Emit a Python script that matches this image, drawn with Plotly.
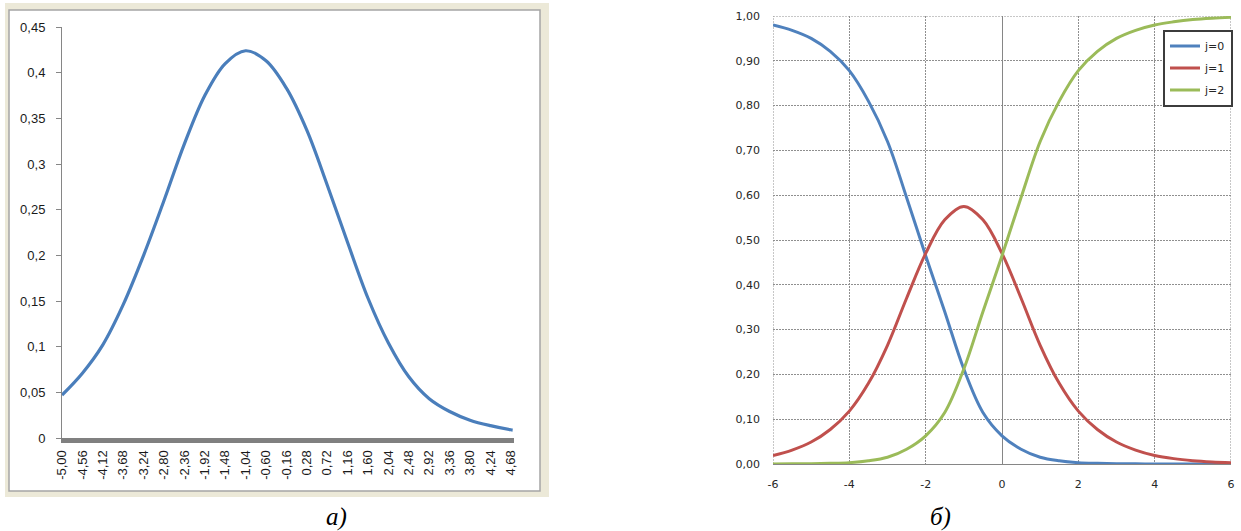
import plotly.graph_objects as go

W, H = 1241, 531

# ---- panel a: single bell-shaped curve over a category-style axis ----
a_x = [-5.00, -4.56, -4.12, -3.68, -3.24, -2.80, -2.36, -1.92, -1.48, -1.04,
       -0.60, -0.16, 0.28, 0.72, 1.16, 1.60, 2.04, 2.48, 2.92, 3.36,
       3.80, 4.24, 4.68, 4.72]
a_y = [0.047, 0.071, 0.102, 0.146, 0.200, 0.260, 0.322, 0.375, 0.410, 0.424,
       0.413, 0.383, 0.337, 0.277, 0.214, 0.153, 0.104, 0.067, 0.043, 0.029,
       0.0195, 0.0135, 0.009, 0.0087]
a_tick_vals = [-5.00, -4.56, -4.12, -3.68, -3.24, -2.80, -2.36, -1.92, -1.48, -1.04,
               -0.60, -0.16, 0.28, 0.72, 1.16, 1.60, 2.04, 2.48, 2.92, 3.36,
               3.80, 4.24, 4.68]
a_tick_text = ["-5,00", "-4,56", "-4,12", "-3,68", "-3,24", "-2,80", "-2,36", "-1,92",
               "-1,48", "-1,04", "-0,60", "-0,16", "0,28", "0,72", "1,16", "1,60",
               "2,04", "2,48", "2,92", "3,36", "3,80", "4,24", "4,68"]
a_ytick_vals = [0, 0.05, 0.10, 0.15, 0.20, 0.25, 0.30, 0.35, 0.40, 0.45]
a_ytick_text = ["0", "0,05", "0,1", "0,15", "0,2", "0,25", "0,3", "0,35", "0,4", "0,45"]

# ---- panel b: three category probability curves ----
b_x = [-6.0, -5.5, -5.0, -4.5, -4.0, -3.5, -3.0, -2.5, -2.0, -1.5, -1.0, -0.5, 0.0,
       0.5, 1.0, 1.5, 2.0, 2.5, 3.0, 3.5, 4.0, 4.5, 5.0, 5.5, 6.0]
b_j0 = [0.980, 0.968, 0.950, 0.921, 0.878, 0.810, 0.720, 0.595, 0.465, 0.340, 0.212,
        0.115, 0.063, 0.033, 0.015, 0.007, 0.003, 0.0015, 0.0007, 0.0003, 0.0001,
        0.0001, 0.0, 0.0, 0.0]
b_j1 = [0.019, 0.031, 0.049, 0.077, 0.118, 0.180, 0.265, 0.370, 0.470, 0.545, 0.575,
        0.545, 0.470, 0.370, 0.265, 0.180, 0.118, 0.077, 0.049, 0.031, 0.019,
        0.012, 0.0075, 0.0047, 0.003]
b_j2 = [0.0001, 0.0003, 0.0007, 0.0015, 0.003, 0.007, 0.015, 0.033, 0.063, 0.115, 0.212,
        0.340, 0.465, 0.595, 0.720, 0.810, 0.878, 0.921, 0.950, 0.968, 0.980,
        0.987, 0.992, 0.995, 0.997]
b_names = ["j=0", "j=1", "j=2"]
b_colors = ["#4F81BD", "#C0504D", "#9BBB59"]
b_ytick_vals = [0.0, 0.1, 0.2, 0.3, 0.4, 0.5, 0.6, 0.7, 0.8, 0.9, 1.0]
b_ytick_text = ["0,00", "0,10", "0,20", "0,30", "0,40", "0,50", "0,60", "0,70",
                "0,80", "0,90", "1,00"]
b_xtick_vals = [-6, -4, -2, 0, 2, 4, 6]
b_xtick_text = ["-6", "-4", "-2", "0", "2", "4", "6"]


def px_x(p):
    return p / W


def px_y(p):
    return 1 - p / H


fig = go.Figure()

fig.add_trace(go.Scatter(
    x=a_x, y=a_y, mode="lines", line=dict(color="#4A7EBB", width=3.2, shape="spline"),
    xaxis="x", yaxis="y", showlegend=False, hoverinfo="skip"))

for ys, name, col in zip([b_j0, b_j1, b_j2], b_names, b_colors):
    fig.add_trace(go.Scatter(
        x=b_x, y=ys, mode="lines", name=name,
        line=dict(color=col, width=3, shape="spline"),
        xaxis="x2", yaxis="y2", legendgroup=name))

sans_a = "Liberation Sans, Arial, sans-serif"
sans_b = "DejaVu Sans, Verdana, sans-serif"
serif = "Liberation Serif, Times New Roman, serif"
axis_gray = "#868686"
grid_gray = "#8f8f8f"
grid_dash = "2px,1px"

# dashed border gridlines of panel b (left, right and top edges)
edge_lines = [
    dict(type="line", xref="x2", yref="y2", x0=b_xtick_vals[0], x1=b_xtick_vals[0],
         y0=0, y1=1, line=dict(color=grid_gray, width=1, dash=grid_dash)),
    dict(type="line", xref="x2", yref="y2", x0=b_xtick_vals[-1], x1=b_xtick_vals[-1],
         y0=0, y1=1, line=dict(color=grid_gray, width=1, dash=grid_dash)),
    dict(type="line", xref="x2", yref="y2", x0=b_xtick_vals[0], x1=b_xtick_vals[-1],
         y0=1, y1=1, line=dict(color=grid_gray, width=1, dash=grid_dash)),
]
for s in edge_lines:
    s["layer"] = "below"

fig.update_layout(
    width=W, height=H,
    margin=dict(l=0, r=0, t=0, b=0, pad=0, autoexpand=False),
    paper_bgcolor="white",
    plot_bgcolor="rgba(0,0,0,0)",
    showlegend=True,
    legend=dict(
        x=px_x(1163), y=px_y(29.5), xanchor="left", yanchor="top",
        bgcolor="white", bordercolor="#3c3c3c", borderwidth=2,
        font=dict(family=sans_b, size=11, color="#262626"),
        tracegroupgap=3, itemwidth=30,
    ),
    xaxis=dict(
        domain=[px_x(62), px_x(513.6)], range=[-5.0, 4.74], automargin=False,
        anchor="y", showgrid=False, zeroline=False,
        showline=True, linecolor="#808080", linewidth=5,
        ticks="", tickmode="array", tickvals=a_tick_vals, ticktext=a_tick_text,
        tickangle=-90, ticklabelstandoff=2,
        tickfont=dict(family=sans_a, size=13, color="#1a1a1a"),
    ),
    yaxis=dict(
        domain=[px_y(438), px_y(27)], range=[0, 0.45], automargin=False,
        anchor="x", showgrid=False, zeroline=False,
        showline=True, linecolor=axis_gray, linewidth=1,
        ticks="outside", ticklen=5, tickcolor=axis_gray,
        tickmode="array", tickvals=a_ytick_vals, ticktext=a_ytick_text,
        ticklabelstandoff=8,
        tickfont=dict(family=sans_a, size=13, color="#1a1a1a"),
    ),
    xaxis2=dict(
        domain=[px_x(773), px_x(1231)], range=[-6, 6], automargin=False,
        anchor="y2", showgrid=True, gridcolor=grid_gray, griddash=grid_dash, gridwidth=1,
        zeroline=True, zerolinecolor=axis_gray, zerolinewidth=1,
        showline=True, linecolor=axis_gray, linewidth=1,
        ticks="", tickmode="array", tickvals=b_xtick_vals, ticktext=b_xtick_text,
        ticklabelstandoff=10,
        tickfont=dict(family=sans_b, size=11, color="#262626"),
    ),
    yaxis2=dict(
        domain=[px_y(464), px_y(16)], range=[0, 1], automargin=False,
        anchor="x2", showgrid=True, gridcolor=grid_gray, griddash=grid_dash, gridwidth=1,
        zeroline=False, showline=False,
        ticks="", tickmode="array", tickvals=b_ytick_vals, ticktext=b_ytick_text,
        ticklabelstandoff=12,
        tickfont=dict(family=sans_b, size=11, color="#262626"),
    ),
    shapes=[
        # window-style frame around panel a
        dict(type="rect", xref="paper", yref="paper", layer="below",
             x0=px_x(5), x1=px_x(549), y0=px_y(497), y1=px_y(3),
             fillcolor="#ECE9D8", line=dict(width=0)),
        dict(type="rect", xref="paper", yref="paper", layer="below",
             x0=px_x(9), x1=px_x(540), y0=px_y(491), y1=px_y(10),
             fillcolor="white", line=dict(color="#a5a5a5", width=1.5)),
    ] + edge_lines,
    annotations=[
        dict(text="a)", x=px_x(336), y=px_y(517), xref="paper", yref="paper",
             showarrow=False, xanchor="center", yanchor="middle",
             font=dict(family=serif, size=25, color="black", style="italic")),
        dict(text="б)", x=px_x(940), y=px_y(517), xref="paper", yref="paper",
             showarrow=False, xanchor="center", yanchor="middle",
             font=dict(family=serif, size=25, color="black", style="italic")),
    ],
)

fig.write_html("out.html")
